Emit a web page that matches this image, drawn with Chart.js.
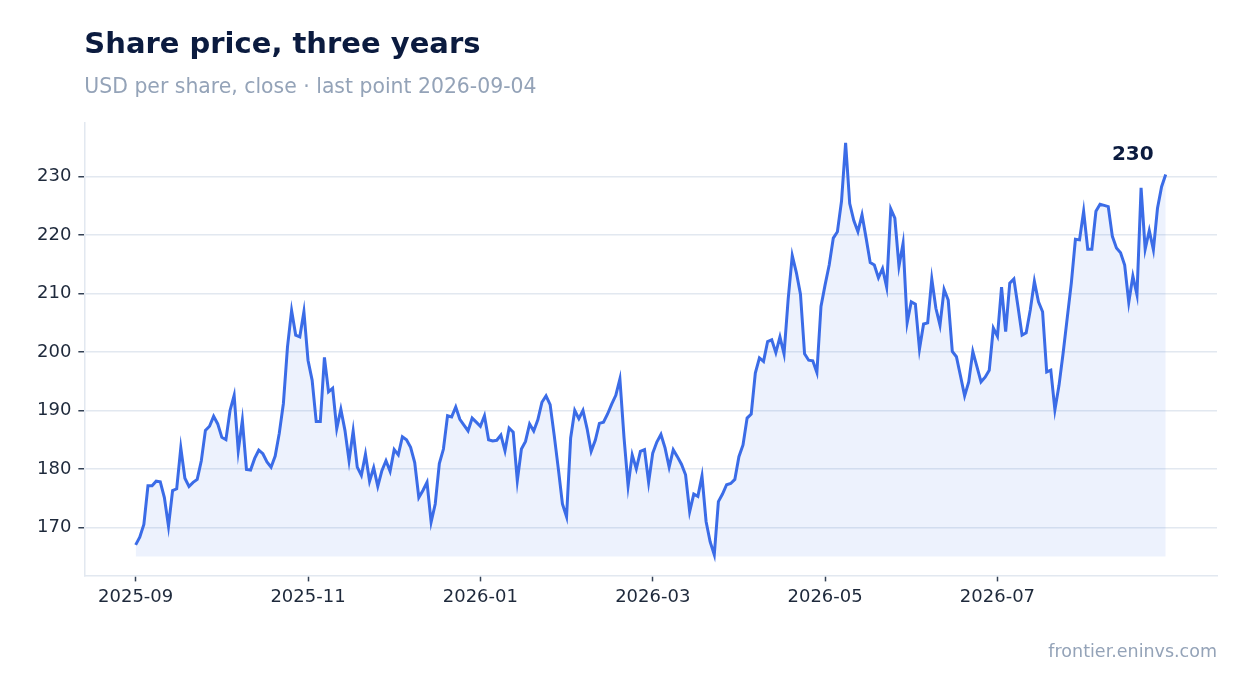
<!DOCTYPE html>
<html>
<head>
<meta charset="utf-8">
<script src="https://cdn.jsdelivr.net/npm/chart.js@4.4.1/dist/chart.umd.min.js"></script>
<style>
  html, body { margin: 0; padding: 0; background: #ffffff; }
  #wrap { width: 1247px; height: 693px; position: relative; }
</style>
</head>
<body>
<div id="wrap"><canvas id="myChart"></canvas></div>
<script>
// closing prices, one per trading session (252 sessions)
const closes = [
  167.0, 168.3, 170.5, 177.1, 177.1, 177.9, 177.8, 175.1, 170.2, 176.3,
  176.6, 183.6, 178.4, 177.0, 177.7, 178.2, 181.4, 186.6, 187.3, 189.0,
  187.7, 185.4, 185.0, 190.0, 192.6, 183.1, 188.3, 179.9, 179.8, 181.8,
  183.2, 182.6, 181.2, 180.3, 182.2, 186.1, 191.2, 200.9, 207.1, 202.9,
  202.6, 206.9, 198.6, 195.2, 188.1, 188.1, 199.1, 193.2, 193.8, 186.9,
  190.2, 186.6, 181.4, 186.5, 180.3, 178.9, 182.5, 177.9, 180.2, 177.0,
  179.7, 181.4, 179.6, 183.3, 182.4, 185.5, 185.0, 183.7, 181.1, 175.1,
  176.3, 177.7, 170.9, 174.0, 180.9, 183.4, 189.1, 188.9, 190.6, 188.5,
  187.5, 186.5, 188.7, 188.0, 187.3, 189.1, 185.0, 184.8, 184.9, 185.8,
  183.1, 187.0, 186.3, 178.0, 183.4, 184.7, 187.7, 186.5, 188.4, 191.4,
  192.5, 191.0, 185.7, 180.0, 174.0, 171.8, 185.3, 190.0, 188.6, 190.0,
  186.9, 183.0, 184.9, 187.8, 188.0, 189.4, 191.1, 192.6, 195.4, 185.4,
  177.1, 182.4, 180.0, 183.0, 183.3, 177.7, 182.7, 184.6, 185.9, 183.6,
  180.3, 183.3, 182.1, 180.8, 179.0, 172.7, 175.7, 175.3, 178.8, 171.0,
  167.5, 165.3, 174.4, 175.7, 177.3, 177.5, 178.2, 182.1, 184.1, 188.7,
  189.4, 196.4, 199.0, 198.4, 201.8, 202.1, 199.9, 202.6, 199.7, 209.0,
  216.5, 213.6, 209.9, 199.7, 198.6, 198.5, 196.5, 207.8, 211.5, 214.9,
  219.5, 220.6, 225.8, 235.8, 225.4, 222.5, 220.6, 223.5, 219.5, 215.3,
  214.9, 212.7, 214.3, 211.1, 224.5, 222.9, 214.7, 218.6, 205.0, 208.6,
  208.2, 200.5, 204.8, 205.0, 212.5, 207.5, 204.6, 210.7, 208.9, 200.1,
  199.2, 195.9, 192.5, 194.9, 200.1, 197.5, 194.9, 195.7, 196.9, 204.1,
  202.7, 211.1, 203.5, 211.8, 212.5, 207.8, 202.9, 203.3, 207.2, 212.1,
  208.6, 206.9, 196.6, 196.9, 190.1, 194.3, 199.8, 205.8, 211.8, 219.3,
  219.2, 224.1, 217.6, 217.6, 224.1, 225.3, 225.1, 224.9, 219.8, 217.8,
  217.0, 214.9, 208.5, 213.0, 209.8, 228.1, 217.6, 220.8, 217.5, 224.6,
  228.3, 230.4
];

// session index where each x tick sits, and its label
const tickIndex = [0, 42, 84, 126, 168, 210];
const tickLabels = ['2025-09', '2025-11', '2026-01', '2026-03', '2026-05', '2026-07'];

const yTicks = [170, 180, 190, 200, 210, 220, 230];
const fillBase = 165;

const FONT = "'DejaVu Sans', sans-serif";

const lo = Math.min(...closes);
const hi = Math.max(...closes);
const pad = (hi - lo) * 0.05;

const points = closes.map((v, i) => ({ x: i, y: v }));

// footer text + label next to the last close
const extras = {
    id: 'extras',
    afterDraw(chart) {
        const c = chart.ctx;
        const area = chart.chartArea;
        const last = closes.length - 1;
        const px = chart.scales.x.getPixelForValue(last);
        const py = chart.scales.y.getPixelForValue(closes[last]);
        c.save();
        c.fillStyle = '#0b1b3f';
        c.font = 'bold 20px ' + FONT;
        c.textAlign = 'right';
        c.textBaseline = 'middle';
        c.fillText(Math.round(closes[last]).toString(), px - 12, py - 20);

        c.fillStyle = '#94a3b8';
        c.font = '17.5px ' + FONT;
        c.textAlign = 'right';
        c.textBaseline = 'middle';
        c.fillText('frontier.eninvs.com', area.right, 652);
        c.restore();
    }
};

const ctx = document.getElementById('myChart');

const myChart = new Chart(ctx, {
    type: 'line',
    data: {
        datasets: [{
            label: 'Close',
            data: points,
            borderColor: '#3b6ce7',
            borderWidth: 3,
            backgroundColor: 'rgba(59, 108, 231, 0.09)',
            fill: { value: fillBase },
            pointRadius: 0,
            tension: 0
        }]
    },
    options: {
        responsive: true,
        maintainAspectRatio: false,
        animation: false,
        layout: {
            padding: { left: 30, right: 30, top: 0, bottom: 80 }
        },
        plugins: {
            legend: { display: false },
            tooltip: { enabled: false },
            title: {
                display: true,
                text: 'Share price, three years',
                align: 'start',
                fullSize: false,
                color: '#0b1b3f',
                font: { family: FONT, size: 29, weight: 'bold' },
                padding: { top: 28, bottom: 0 }
            },
            subtitle: {
                display: true,
                text: 'USD per share, close \u00b7 last point 2026-09-04',
                align: 'start',
                fullSize: false,
                color: '#94a3b8',
                font: { family: FONT, size: 20.4 },
                padding: { top: 13, bottom: 22 }
            }
        },
        scales: {
            x: {
                type: 'linear',
                min: -12.5,
                max: closes.length - 1 + 12.5,
                afterBuildTicks(axis) {
                    axis.ticks = tickIndex.map(v => ({ value: v }));
                },
                grid: {
                    drawOnChartArea: false,
                    tickLength: 6,
                    tickColor: '#334155',
                    tickWidth: 1.5
                },
                border: { display: true, color: '#e2e8f0', width: 1.5 },
                ticks: {
                    autoSkip: false,
                    maxRotation: 0,
                    padding: 5,
                    color: '#1e293b',
                    font: { family: FONT, size: 18 },
                    callback: (v) => {
                        const k = tickIndex.indexOf(v);
                        return k >= 0 ? tickLabels[k] : '';
                    }
                }
            },
            y: {
                min: lo - pad,
                max: hi + pad,
                afterBuildTicks(axis) {
                    axis.ticks = yTicks.map(v => ({ value: v }));
                },
                grid: {
                    color: '#e2e8f0',
                    lineWidth: 1.5,
                    tickLength: 6,
                    tickColor: '#334155',
                    tickWidth: 1.5
                },
                border: { display: true, color: '#e2e8f0', width: 1.5 },
                ticks: {
                    padding: 7,
                    color: '#1e293b',
                    font: { family: FONT, size: 18 }
                }
            }
        }
    },
    plugins: [extras]
});
</script>
</body>
</html>
